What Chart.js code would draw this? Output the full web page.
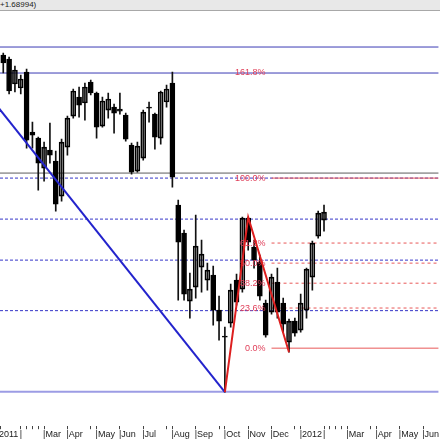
<!DOCTYPE html>
<html>
<head>
<meta charset="utf-8">
<script src="https://cdn.jsdelivr.net/npm/chart.js@4"></script>
<style>
  html, body { margin: 0; padding: 0; background: #fff; }
  #hdr {
    position: absolute; left: 0; top: 0; width: 440px; height: 10px;
    background: #e8e8e8; border-bottom: 1px solid #a8a8a8;
    font: 8px "Liberation Sans", Arial, sans-serif; line-height: 10px;
    color: #222; white-space: nowrap; overflow: hidden;
  }
  #box { position: absolute; left: 0; top: 11px; width: 440px; height: 429px; }
</style>
</head>
<body>
<div id="hdr">+1.68994)</div>
<div id="box"><canvas id="chart"></canvas></div>
<script>
// weekly candles, Jan 2011 - Feb 2012 (x = week number)
var openP  = [1.645, 1.641, 1.616, 1.612, 1.628, 1.568, 1.562, 1.532, 1.550, 1.539,
              1.504, 1.553, 1.584, 1.603, 1.597, 1.618, 1.607, 1.574, 1.590, 1.593,
              1.589, 1.585, 1.555, 1.529, 1.542, 1.593, 1.586, 1.562, 1.598, 1.617,
              1.495, 1.467, 1.399, 1.413, 1.433, 1.420, 1.425, 1.390, 1.364, 1.377,
              1.420, 1.411, 1.482, 1.453, 1.438, 1.397, 1.388, 1.418, 1.397, 1.358,
              1.379, 1.370, 1.390, 1.423, 1.464, 1.480];
var highP  = [1.647, 1.643, 1.634, 1.625, 1.631, 1.578, 1.563, 1.558, 1.577, 1.549,
              1.561, 1.584, 1.611, 1.613, 1.617, 1.620, 1.608, 1.603, 1.607, 1.596,
              1.607, 1.587, 1.557, 1.558, 1.590, 1.598, 1.587, 1.609, 1.615, 1.628,
              1.500, 1.470, 1.427, 1.485, 1.460, 1.437, 1.434, 1.404, 1.373, 1.416,
              1.426, 1.483, 1.483, 1.460, 1.445, 1.400, 1.426, 1.432, 1.402, 1.381,
              1.382, 1.406, 1.432, 1.459, 1.489, 1.495];
var lowP   = [1.627, 1.606, 1.608, 1.606, 1.552, 1.552, 1.510, 1.519, 1.537, 1.489,
              1.499, 1.545, 1.582, 1.583, 1.580, 1.605, 1.562, 1.573, 1.582, 1.567,
              1.586, 1.559, 1.526, 1.528, 1.540, 1.578, 1.551, 1.556, 1.593, 1.513,
              1.400, 1.400, 1.382, 1.402, 1.408, 1.410, 1.375, 1.360, 1.308, 1.373,
              1.395, 1.408, 1.450, 1.432, 1.400, 1.363, 1.386, 1.382, 1.368, 1.348,
              1.364, 1.368, 1.382, 1.410, 1.462, 1.469];
var closeP = [1.637, 1.609, 1.630, 1.621, 1.560, 1.565, 1.537, 1.553, 1.545, 1.496,
              1.558, 1.582, 1.609, 1.595, 1.613, 1.607, 1.573, 1.599, 1.601, 1.587,
              1.591, 1.561, 1.528, 1.554, 1.588, 1.592, 1.563, 1.608, 1.611, 1.523,
              1.458, 1.406, 1.411, 1.454, 1.446, 1.430, 1.390, 1.379, 1.363, 1.410,
              1.398, 1.482, 1.458, 1.440, 1.404, 1.365, 1.423, 1.388, 1.376, 1.379,
              1.367, 1.397, 1.431, 1.457, 1.487, 1.488];

// time axis
var xMin = -0.56, xMax = 74.66;
var monthPos   = [-0.56, 3, 7, 11, 16, 20, 24, 29, 33, 38, 42, 46, 51, 55, 59, 64, 68, 72];
var monthNames = ['2011', '', 'Mar', 'Apr', 'May', 'Jun', 'Jul', 'Aug', 'Sep', 'Oct',
                  'Nov', 'Dec', '2012', '', 'Mar', 'Apr', 'May', 'Jun'];

// drawn objects
var blueLevels = [1.653, 1.627];
var greyLevels = [1.527];
var dashLevels = [1.522, 1.481, 1.440, 1.3895];
var baseLevels = [1.3085];
var trendX = [-5, 38], trendY = [1.623, 1.308];
var zigX = [38, 42, 49], zigY = [1.308, 1.483, 1.348];
var fiboLow = 1.352, fiboHigh = 1.522, fiboStart = 46;
var fiboRatios = [0, 0.236, 0.382, 0.5, 0.618, 1.0, 1.618];
var fiboLabels = ['0.0%', '23.6%', '38.2%', '50.0%', '61.8%', '100.0%', '161.8%'];

Chart.defaults.font.family = '"Liberation Sans", Arial, sans-serif';

var bodyData = [], wickData = [], bodyColors = [];
for (var i = 0; i < openP.length; i++) {
  bodyData.push({ x: i, y: [openP[i], closeP[i]] });
  wickData.push({ x: i, y: [lowP[i], highP[i]] });
  // up candles are hollow
  bodyColors.push(closeP[i] > openP[i] ? 'rgba(255,255,255,0)' : '#000000');
}

function level(y, from, color, width, dash, order) {
  return {
    type: 'line', data: [{ x: from, y: y }, { x: xMax, y: y }],
    borderColor: color, borderWidth: width, borderDash: dash,
    pointRadius: 0, fill: false, order: order
  };
}

function pts(xs, ys) {
  return xs.map(function (x, k) { return { x: x, y: ys[k] }; });
}

var BODY = 2; // dataset index of the candle bodies
var datasets = [
  { type: 'line', data: pts(zigX, zigY), borderColor: '#dd1f1f', borderWidth: 2,
    pointRadius: 0, fill: false, order: 0 },
  { type: 'line', data: pts(trendX, trendY), borderColor: '#2323cc', borderWidth: 2,
    pointRadius: 0, fill: false, order: 1 },
  { type: 'bar', data: bodyData, backgroundColor: bodyColors, borderColor: '#000',
    borderWidth: 1, borderSkipped: false, barThickness: 5, grouped: false, order: 2 },
  { type: 'bar', data: wickData, backgroundColor: '#111', borderWidth: 0,
    barThickness: 1, grouped: false, order: 3 }
];
fiboRatios.forEach(function (r) {
  if (r > 1) return;
  var solid = (r === 0 || r === 1);
  datasets.push(level(fiboLow + r * (fiboHigh - fiboLow), fiboStart, '#e85858', 1,
                      solid ? [] : [3, 3], 4));
});
blueLevels.forEach(function (v) { datasets.push(level(v, xMin, '#3a3ab4', 1, [], 5)); });
greyLevels.forEach(function (v) { datasets.push(level(v, xMin, '#5c5c5c', 1, [], 5)); });
dashLevels.forEach(function (v) { datasets.push(level(v, xMin, '#3535c8', 1, [3, 2], 5)); });
baseLevels.forEach(function (v) { datasets.push(level(v, xMin, '#9c9ce4', 2, [], 5)); });

// week ticks with month separators
function buildTicks() {
  var t = monthPos.map(function (v) { return { value: v }; });
  for (var w = 0; w <= Math.floor(xMax); w++) {
    var clash = false;
    for (var k = 0; k < monthPos.length; k++) {
      var span = monthNames[k] ? (monthNames[k].length * 5 + 3) / 5.85 : 0.3;
      if (w > monthPos[k] - 0.3 && w < monthPos[k] + span) clash = true;
    }
    if (!clash) t.push({ value: w });
  }
  t.sort(function (a, b) { return a.value - b.value; });
  return t;
}

// fibo level captions, drawn over the candles but under the zigzag
var fiboText = {
  id: 'fiboText',
  afterDatasetDraw: function (chart, args) {
    if (args.index !== BODY) return;
    var xs = chart.scales.x, ys = chart.scales.y, c = chart.ctx;
    c.save();
    c.font = '9px "Liberation Sans", Arial, sans-serif';
    c.fillStyle = '#e0405a';
    c.textAlign = 'right';
    c.textBaseline = 'middle';
    fiboRatios.forEach(function (r, k) {
      c.fillText(fiboLabels[k], xs.getPixelForValue(fiboStart) - 6,
                 ys.getPixelForValue(fiboLow + r * (fiboHigh - fiboLow)));
    });
    c.restore();
  }
};

new Chart(document.getElementById('chart'), {
  type: 'bar',
  data: { datasets: datasets },
  options: {
    responsive: true,
    maintainAspectRatio: false,
    animation: false,
    events: [],
    layout: { padding: 0 },
    plugins: { legend: { display: false }, tooltip: { enabled: false } },
    scales: {
      x: {
        type: 'linear', min: xMin, max: xMax, bounds: 'data', offset: false,
        afterBuildTicks: function (scale) { scale.ticks = buildTicks(); },
        border: { display: false },
        grid: { drawOnChartArea: false, offset: false, tickLength: 3, tickColor: '#444' },
        ticks: {
          autoSkip: false, maxRotation: 0, align: 'start', labelOffset: -1,
          padding: 0, color: '#1a1a1a', font: { size: 9 },
          callback: function (v) {
            var k = monthPos.indexOf(v);
            if (k < 0) return '';
            return k === 0 ? monthNames[k] : '|' + monthNames[k];
          }
        }
      },
      y: { type: 'linear', display: false, min: 1.274, max: 1.689 }
    }
  },
  plugins: [fiboText]
});
</script>
</body>
</html>
